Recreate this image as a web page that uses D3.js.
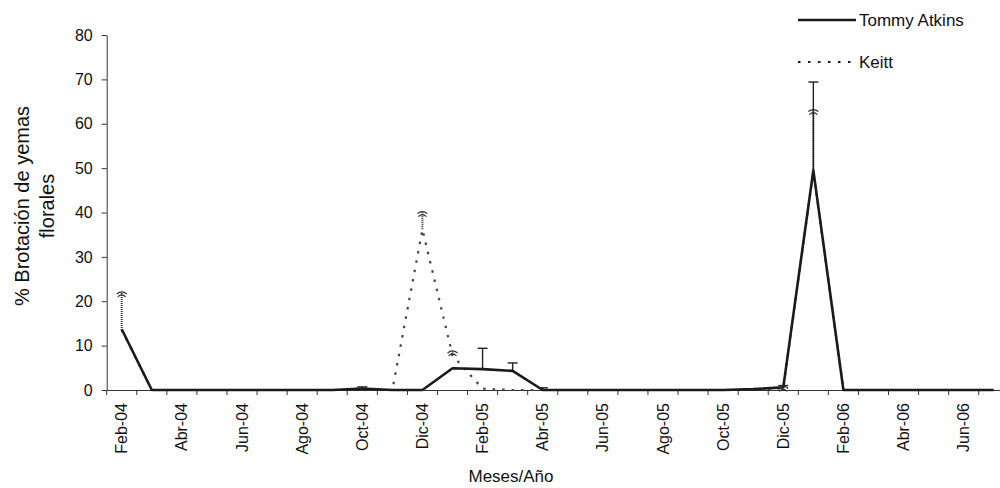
<!DOCTYPE html>
<html lang="es">
<head>
<meta charset="utf-8">
<title>Brotación de yemas florales</title>
<script src="https://d3js.org/d3.v7.min.js"></script>
<style>
  body { margin: 0; background: #fff; }
  text { font-family: "Liberation Sans", Arial, sans-serif; fill: #111; }
  .axis path, .axis line { stroke: #333; }
</style>
</head>
<body>
<script>
// months on the x axis (Spanish abbreviations)
var months = ["Feb-04","Mar-04","Abr-04","May-04","Jun-04","Jul-04","Ago-04","Sep-04","Oct-04","Nov-04","Dic-04","Ene-05",
              "Feb-05","Mar-05","Abr-05","May-05","Jun-05","Jul-05","Ago-05","Sep-05","Oct-05","Nov-05","Dic-05","Ene-06",
              "Feb-06","Mar-06","Abr-06","May-06","Jun-06","Jul-06"];

// % brotación
var tommy = [13.7,0,0,0,0,0,0,0,0.3,0,0,4.9,4.7,4.3,0,0,0,0,0,0,0,0.2,0.6,49.5,0,0,0,0,0,0];
var keitt = [13.5,0,0,0,0,0,0,0,0,0,36.2,7.8,0.3,0,0,0,0,0,0,0,0,0,0.4,49.3,0,0,0,0,0,0];

// upper end of error bars (null = none drawn)
var tommyErr = [null,null,null,null,null,null,null,null,0.7,null,null,null,9.4,6.1,0.5,null,null,null,null,null,null,null,1.0,69.4,null,null,null,null,null,null];
var keittErr = [22.1,null,null,null,null,null,null,null,null,null,40.2,8.8,null,null,null,null,null,null,null,null,null,null,0.8,63.2,null,null,null,null,null,null];

var yTicks = [0,10,20,30,40,50,60,70,80];

var svg = d3.select("body").append("svg").attr("width", 1000).attr("height", 488);

var x = d3.scaleBand().domain(months).range([106.7, 106.7 + 30 * 30.07]);
var y = d3.scaleLinear().domain([0, 80]).range([390, 35]);
var cx = function(m) { return x(m) + x.bandwidth() / 2; };

// y axis
svg.append("g")
    .attr("class", "axis")
    .attr("transform", "translate(106.7,0)")
    .call(d3.axisLeft(y).tickValues(yTicks).tickSize(5).tickPadding(9).tickSizeOuter(0))
    .call(function(g) { g.selectAll("text").style("font-size", "16px").style("font-family", "Liberation Sans, Arial, sans-serif").attr("fill", "#111"); });

// x axis: labels on every second month, ticks on band edges
var xAxis = svg.append("g")
    .attr("class", "axis")
    .attr("transform", "translate(0,390)")
    .call(d3.axisBottom(x).tickSize(0).tickSizeOuter(0)
        .tickFormat(function(d, i) { return i % 2 === 0 ? d : ""; }));
xAxis.selectAll("text")
    .style("font-size", "16px")
    .style("font-family", "Liberation Sans, Arial, sans-serif")
    .attr("fill", "#111")
    .attr("text-anchor", "end")
    .attr("transform", "rotate(-90)")
    .attr("x", -13)
    .attr("y", 0)
    .attr("dy", "0.35em");
xAxis.selectAll(".edge")
    .data(months)
    .enter().append("line")
    .attr("class", "edge")
    .attr("x1", function(d) { return x(d); })
    .attr("x2", function(d) { return x(d); })
    .attr("y1", 0).attr("y2", 5)
    .attr("stroke", "#333");

// lines
var line = function(vals) {
    return d3.line()
        .x(function(d, i) { return cx(months[i]); })
        .y(function(d) { return y(d); })(vals);
};

svg.append("path")
    .attr("d", line(keitt))
    .attr("fill", "none")
    .attr("stroke", "#444")
    .attr("stroke-width", 2.2)
    .attr("stroke-dasharray", "2.5,7");

svg.append("path")
    .attr("d", line(tommy))
    .attr("fill", "none")
    .attr("stroke", "#1a1a1a")
    .attr("stroke-width", 2.6)
    .attr("stroke-linejoin", "round");

// error bars - Keitt (dotted, curved caps)
var kErr = months.map(function(m, i) { return { m: m, v: keitt[i], e: keittErr[i] }; })
    .filter(function(d) { return d.e !== null; });
var kg = svg.append("g");
kg.selectAll(".kbar").data(kErr).enter().append("line")
    .attr("x1", function(d) { return cx(d.m); })
    .attr("x2", function(d) { return cx(d.m); })
    .attr("y1", function(d) { return y(d.v); })
    .attr("y2", function(d) { return y(d.e); })
    .attr("stroke", "#333")
    .attr("stroke-width", 2)
    .attr("stroke-dasharray", "1,1");
kg.selectAll(".kcap").data(kErr).enter().append("path")
    .attr("d", function(d) {
        var px = cx(d.m), py = y(d.e);
        return "M" + (px - 5) + "," + (py + 2) + "Q" + px + "," + (py - 2) + " " + (px + 5) + "," + (py + 2) +
               "M" + (px - 4) + "," + (py + 5) + "Q" + px + "," + (py + 1) + " " + (px + 4) + "," + (py + 5);
    })
    .attr("fill", "none")
    .attr("stroke", "#333")
    .attr("stroke-width", 1.2);

// error bars - Tommy Atkins (solid, flat caps)
var tErr = months.map(function(m, i) { return { m: m, v: tommy[i], e: tommyErr[i] }; })
    .filter(function(d) { return d.e !== null; });
var tg = svg.append("g");
tg.selectAll(".tbar").data(tErr).enter().append("line")
    .attr("x1", function(d) { return cx(d.m); })
    .attr("x2", function(d) { return cx(d.m); })
    .attr("y1", function(d) { return y(d.v); })
    .attr("y2", function(d) { return y(d.e); })
    .attr("stroke", "#222")
    .attr("stroke-width", 1.4);
tg.selectAll(".tcap").data(tErr).enter().append("line")
    .attr("x1", function(d) { return cx(d.m) - 5; })
    .attr("x2", function(d) { return cx(d.m) + 5; })
    .attr("y1", function(d) { return y(d.e); })
    .attr("y2", function(d) { return y(d.e); })
    .attr("stroke", "#222")
    .attr("stroke-width", 1.4);

// axis titles
svg.append("text")
    .attr("x", 511).attr("y", 482)
    .attr("text-anchor", "middle")
    .style("font-size", "17px")
    .text("Meses/Año");

var yl = svg.append("text")
    .attr("transform", "translate(29,206) rotate(-90)")
    .attr("text-anchor", "middle")
    .style("font-size", "20px");
yl.append("tspan").attr("x", 0).attr("dy", 0).text("% Brotación de yemas");
yl.append("tspan").attr("x", 0).attr("dy", 25).text("florales");

// legend
var legend = [
    { name: "Tommy Atkins", dash: null, y: 20 },
    { name: "Keitt", dash: "2.5,7.5", y: 62 }
];
var lg = svg.selectAll(".legend").data(legend).enter().append("g");
lg.append("line")
    .attr("x1", 798).attr("x2", 856)
    .attr("y1", function(d) { return d.y; })
    .attr("y2", function(d) { return d.y; })
    .attr("stroke", "#1a1a1a")
    .attr("stroke-width", function(d) { return d.dash ? 2.2 : 2.6; })
    .attr("stroke-dasharray", function(d) { return d.dash; });
lg.append("text")
    .attr("x", 859)
    .attr("y", function(d) { return d.y + 6; })
    .style("font-size", "17px")
    .text(function(d) { return d.name; });
</script>
</body>
</html>
